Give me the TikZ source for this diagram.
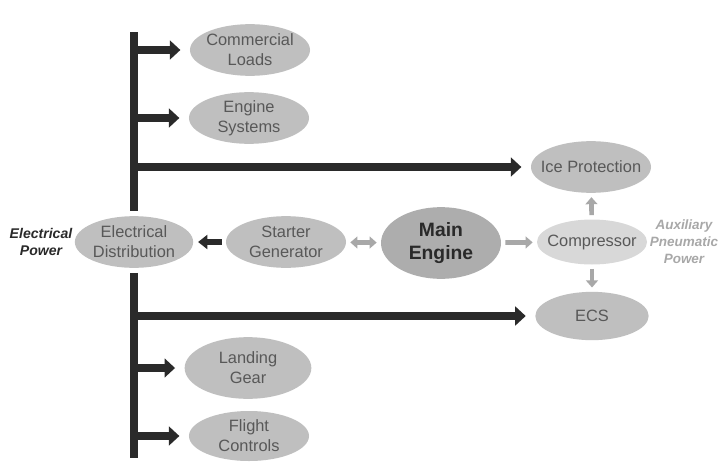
\documentclass[tikz,border=0pt]{standalone}
\usepackage{fontspec}
\setmainfont{Liberation Sans}
\usetikzlibrary{shapes.geometric,arrows.meta,positioning}
\definecolor{acInk}{HTML}{2A2A2A}
\definecolor{acFill}{HTML}{BFBFBF}
\definecolor{acDark}{HTML}{ADADAD}
\definecolor{acLight}{HTML}{D8D8D8}
\definecolor{acText}{HTML}{585858}
\definecolor{acGrey}{HTML}{A8A8A8}
\tikzset{
  blob/.style={ellipse, fill=acFill, draw=none, inner xsep=-16pt, inner ysep=0pt, minimum width=3.6cm, minimum height=1.55cm, align=center, text=acText, font=\fontsize{14}{17}\selectfont},
  blobM/.style={blob, fill=acDark, minimum height=2.15cm, text=acInk, font=\fontsize{16.5}{19}\selectfont\bfseries},
  blobL/.style={blob, fill=acLight},
  bus/.style={line width=6pt, draw=acInk},
  busarr/.style={bus, -{Triangle[length=9pt,width=16pt]}, shorten >=8pt},
  genarr/.style={line width=5pt, draw=acInk, -{Triangle[length=8pt,width=12pt]}, shorten <=3.5pt, shorten >=4pt},
  airarr/.style={line width=4pt, draw=acGrey, -{Triangle[length=6pt,width=10pt]}, shorten <=3.5pt, shorten >=3.5pt},
  side/.style={font=\fontsize{12}{15}\selectfont\bfseries\itshape, align=center},
}
\begin{document}
\begin{tikzpicture}[x=0.03cm, y=-0.03cm]
  \fill[white] (0,0) rectangle (723,472);
  % loads and sources
  \node[blob] (cl) at (250,50) {Commercial\\Loads};
  \node[blob] (es) at (249,118) {Engine\\Systems};
  \node[blob, minimum width=3.55cm] (ed) at (134,242) {Electrical\\Distribution};
  \node[blob] (sg) at (286,242) {Starter\\Generator};
  \node[blobM] (me) at (441,243) {Main\\Engine};
  \node[blobL, minimum width=3.3cm, minimum height=1.35cm] (cp) at (592,242) {Compressor};
  \node[blob] (ip) at (591,167) {Ice Protection};
  \node[blob, minimum width=3.4cm, minimum height=1.45cm] (ecs) at (592,316) {ECS};
  \node[blob, minimum width=3.8cm, minimum height=1.85cm] (lg) at (248,368) {Landing\\Gear};
  \node[blob, minimum height=1.5cm] (fc) at (249,436) {Flight\\Controls};
  \node[side, text=acInk] (ep) at (41,242) {Electrical\\Power};
  \node[side, text=acGrey, font=\fontsize{11.5}{14.5}\selectfont\bfseries\itshape] (ap) at (684,242) {Auxiliary\\Pneumatic\\Power};
  % electrical bus
  \coordinate (bustop) at (134,32);
  \coordinate (busbot) at (134,458);
  \draw[bus, shorten >=4pt] (bustop) -- (ed);
  \draw[bus, shorten <=4pt] (ed) -- (busbot);
  \foreach \n in {cl,es,ip,ecs,lg,fc} \draw[busarr] (ed |- \n) -- (\n);
  % generator and air
  \draw[genarr] (sg) -- (ed);
  \draw[airarr, {Triangle[length=6pt,width=10pt]}-{Triangle[length=6pt,width=10pt]}] (sg) -- (me);
  \foreach \u/\v in {me/cp,cp/ip,cp/ecs} \draw[airarr] (\u) -- (\v);
\end{tikzpicture}
\end{document}
